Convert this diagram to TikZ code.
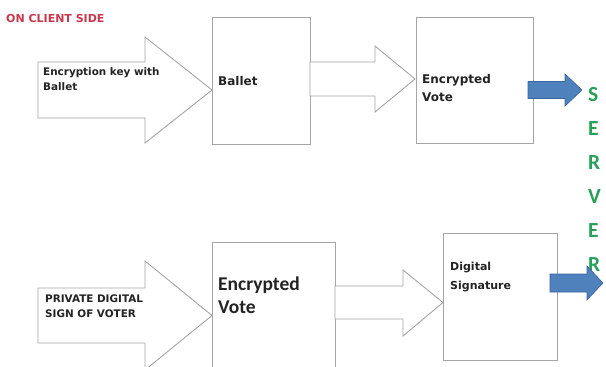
\documentclass[tikz,border=0pt]{standalone}
\usepackage{fontspec}
\setmainfont{Carlito}
\newfontfamily\lblfont{DejaVu Sans}
\definecolor{edgegray}{RGB}{165,165,165}
\definecolor{txtdark}{RGB}{35,35,35}
\definecolor{clientred}{RGB}{200,56,78}
\definecolor{servergreen}{RGB}{40,160,90}
\definecolor{sendblue}{RGB}{79,129,189}
\definecolor{sendblueedge}{RGB}{58,100,155}
\begin{document}
\begin{tikzpicture}[x=1pt,y=-1pt,
  box/.style={draw=edgegray,line width=0.9pt,fill=white,rectangle,inner sep=0pt},
  hollowarrow/.style={draw=edgegray,line width=0.9pt,fill=white,line join=miter},
  sendarrow/.style={draw=sendblueedge,line width=0.6pt,fill=sendblue},
  smalllbl/.style={inner sep=0pt,anchor=west,align=left,text=txtdark,font=\lblfont\bfseries},
  biglbl/.style={inner sep=0pt,anchor=west,align=left,text=txtdark,font=\bfseries}]
\useasboundingbox (0,0) rectangle (606,367);
\clip (0,0) rectangle (606,367);
\fill[white] (0,0) rectangle (606,367);

% title
\node[inner sep=0pt,anchor=west,text=clientred,font=\lblfont\bfseries\fontsize{11}{12}\selectfont] (title) at (6,18) {ON CLIENT SIDE};

% ---- top row ----
\coordinate (a1) at (38,90);
\draw[hollowarrow] (a1) ++(0,-28) -- (145,62) -- (145,37) -- (212,90) -- (145,143) -- (145,118) -- (38,118) -- cycle;
\node[smalllbl,font=\lblfont\bfseries\fontsize{10.4}{15}\selectfont] (keytxt) at (43,79.5) {Encryption key with\\Ballet};

\node[box,minimum width=98pt,minimum height=127pt] (ballet) at (261,80.5) {};
\node[smalllbl,font=\lblfont\bfseries\fontsize{12}{15}\selectfont] (ballettxt) at (218,81) {Ballet};

\coordinate (a2) at (310,79);
\draw[hollowarrow] (a2) ++(0,-17) -- (375,62) -- (375,46) -- (415,79) -- (375,112) -- (375,96) -- (310,96) -- cycle;

\node[box,minimum width=117pt,minimum height=126pt] (encvote) at (474.5,80) {};
\node[smalllbl,font=\lblfont\bfseries\fontsize{12}{18}\selectfont] (encvotetxt) at (422,88) {Encrypted\\Vote};

% server text
\node[inner sep=0pt,anchor=west,align=left,text=servergreen,font=\bfseries\fontsize{21.5}{34}\selectfont] (server) at (588,179) {S\\E\\R\\V\\E\\R};

% blue arrow top
\coordinate (b1) at (528,90);
\draw[sendarrow] (b1) ++(0,-8.5) -- (565,81.5) -- (565,74) -- (582,90) -- (565,106) -- (565,98.5) -- (528,98.5) -- cycle;

% ---- bottom row ----
\coordinate (a3) at (38,315.5);
\draw[hollowarrow] (a3) ++(0,-27.5) -- (145,288) -- (145,261) -- (212,315.5) -- (145,370) -- (145,343) -- (38,343) -- cycle;
\node[smalllbl,font=\lblfont\bfseries\fontsize{10.4}{15}\selectfont] (privtxt) at (45,306.5) {PRIVATE DIGITAL\\SIGN OF VOTER};

\node[box,minimum width=123pt,minimum height=140pt] (encvote2) at (273.5,312) {};
\node[biglbl,font=\bfseries\fontsize{19.5}{23}\selectfont] (encvote2txt) at (218,295.5) {Encrypted\\Vote};

\coordinate (a4) at (335,302.5);
\draw[hollowarrow] (a4) ++(0,-16.5) -- (403,286) -- (403,270) -- (443,302.5) -- (403,336) -- (403,319) -- (335,319) -- cycle;

\node[box,minimum width=114pt,minimum height=127pt] (digsig) at (500,296.5) {};
\node[smalllbl,font=\lblfont\bfseries\fontsize{11}{19}\selectfont] (digsigtxt) at (450,277.5) {Digital\\Signature};

% blue arrow bottom
\coordinate (b2) at (550,283);
\draw[sendarrow] (b2) ++(0,-9) -- (587,274) -- (587,266) -- (603,283) -- (587,300) -- (587,292) -- (550,292) -- cycle;
\end{tikzpicture}
\end{document}
